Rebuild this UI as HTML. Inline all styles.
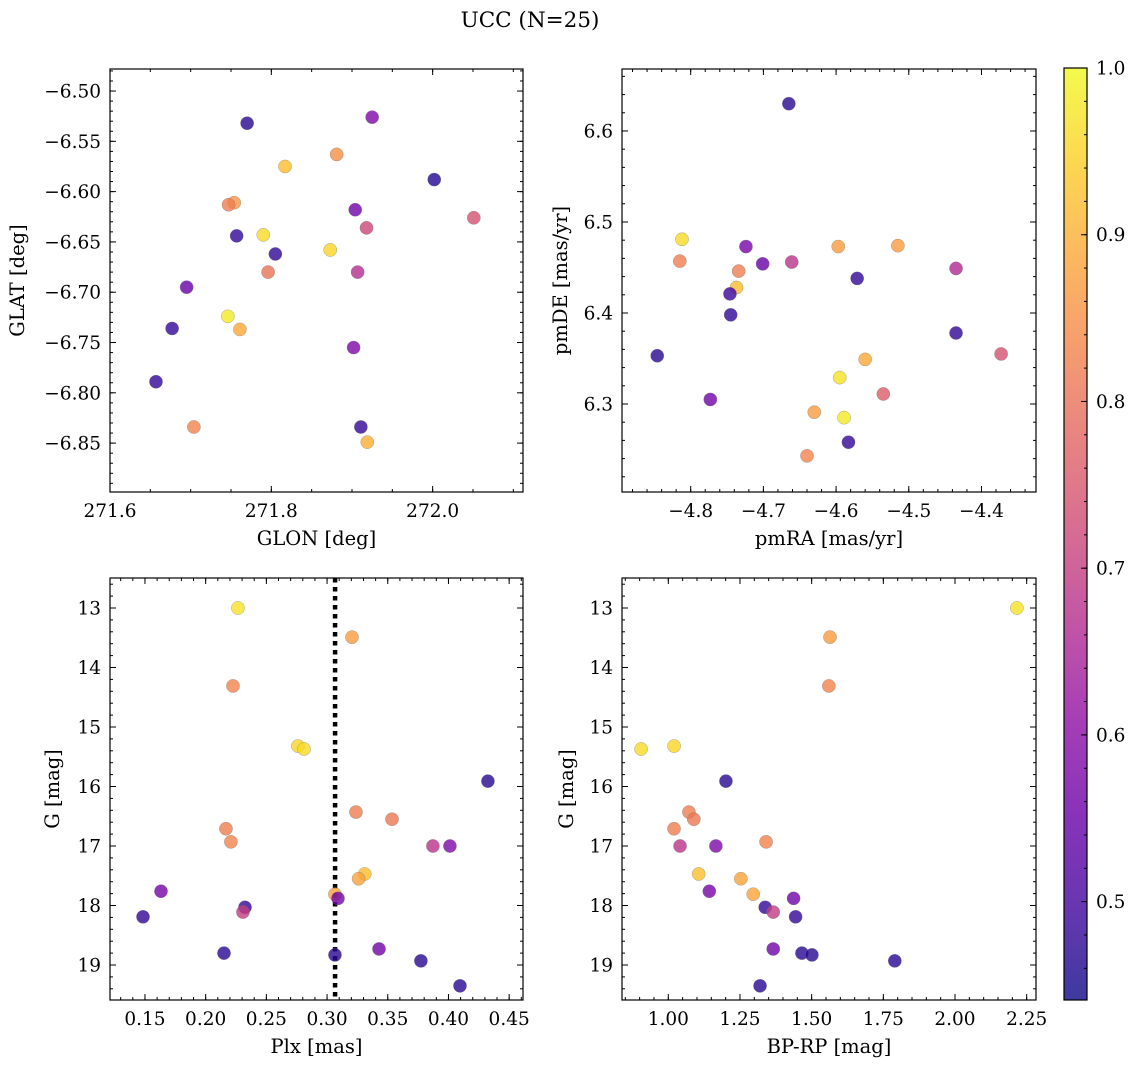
<!DOCTYPE html>
<html><head><meta charset="utf-8">
<style>
html,body{margin:0;padding:0;background:#fff;}
svg{display:block;font-family:"DejaVu Serif","Liberation Serif",serif;}
</style></head>
<body>
<svg id="fig" width="1136" height="1068" viewBox="0 0 1136 1068" xmlns="http://www.w3.org/2000/svg">
<rect width="1136" height="1068" fill="#fff"/>
<text x="530" y="27" font-size="21.5" text-anchor="middle">UCC (N=25)</text>
</svg>
<script>
// ---- Panel 1: GLON vs GLAT ----
const glon = [271.770,271.925,271.817,271.881,272.002,271.754,271.747,271.904,271.918,272.051,271.757,271.790,271.873,271.805,271.796,271.907,271.695,271.746,271.761,271.677,271.902,271.657,271.704,271.911,271.919];
const glat = [-6.532,-6.526,-6.575,-6.563,-6.588,-6.611,-6.613,-6.618,-6.636,-6.626,-6.644,-6.643,-6.658,-6.662,-6.680,-6.680,-6.695,-6.724,-6.737,-6.736,-6.755,-6.789,-6.834,-6.834,-6.849];
const probA = [0.47,0.58,0.92,0.85,0.46,0.86,0.82,0.56,0.72,0.74,0.48,0.96,0.95,0.48,0.80,0.67,0.55,0.98,0.89,0.48,0.58,0.48,0.83,0.48,0.90];
// ---- Panel 2: pmRA vs pmDE ----
const pmra = [-4.665,-4.812,-4.815,-4.724,-4.701,-4.661,-4.734,-4.597,-4.515,-4.571,-4.435,-4.737,-4.746,-4.745,-4.846,-4.435,-4.373,-4.560,-4.773,-4.595,-4.535,-4.630,-4.589,-4.583,-4.640];
const pmde = [6.630,6.481,6.457,6.473,6.454,6.456,6.446,6.473,6.474,6.438,6.449,6.428,6.421,6.398,6.353,6.378,6.355,6.349,6.305,6.329,6.311,6.291,6.285,6.258,6.243];
const probB = [0.47,0.96,0.82,0.57,0.55,0.68,0.82,0.87,0.87,0.48,0.66,0.92,0.49,0.48,0.47,0.48,0.74,0.89,0.56,0.97,0.76,0.87,0.98,0.48,0.83];
// ---- Panels 3 & 4: Plx / BP-RP vs G ----
const gmag = [13.00,13.49,14.31,15.32,15.37,15.91,16.43,16.55,16.71,16.93,17.00,17.00,17.47,17.55,17.76,17.81,17.88,18.03,18.11,18.19,18.80,18.83,18.73,18.93,19.35];
const plx = [0.2266,0.3205,0.2225,0.276,0.281,0.4325,0.3238,0.3535,0.2167,0.2208,0.3872,0.4012,0.331,0.326,0.1632,0.3065,0.309,0.2324,0.2307,0.1484,0.2151,0.3065,0.3428,0.3773,0.4095];
const bprp = [2.216,1.564,1.560,1.020,0.905,1.201,1.072,1.089,1.020,1.341,1.041,1.166,1.106,1.253,1.143,1.296,1.437,1.338,1.366,1.444,1.466,1.501,1.366,1.790,1.320];
const probC = [0.97,0.87,0.83,0.95,0.96,0.47,0.82,0.81,0.82,0.83,0.68,0.58,0.92,0.88,0.57,0.88,0.56,0.48,0.70,0.48,0.47,0.47,0.56,0.47,0.47];
const plxLine = [0.3066];
const cbTicks = [0.5,0.6,0.7,0.8,0.9,1.0];
const cbMin = 0.441, cbMax = 1.0;

const NS = "http://www.w3.org/2000/svg";
const svg = document.getElementById('fig');
const TICK_FS = 18.5, LABEL_FS = 19.5;
function mk(tag, attrs, parent){
  const e = document.createElementNS(NS, tag);
  for (const k in attrs) e.setAttribute(k, attrs[k]);
  (parent||svg).appendChild(e);
  return e;
}
const stops = [[13,8,135],[65,4,157],[106,0,168],[143,13,164],[177,42,144],[204,71,120],[225,100,98],[242,132,75],[252,166,54],[252,206,37],[240,249,33]];
function plasma(t){
  t = Math.max(0, Math.min(1, t));
  const f = t*10, i = Math.min(9, Math.floor(f)), r = f - i;
  const a = stops[i], b = stops[i+1];
  return 'rgb(' + [0,1,2].map(k => Math.round(a[k]+(b[k]-a[k])*r)).join(',') + ')';
}
function cnorm(v){ return (v - cbMin)/(cbMax - cbMin); }
function fmtFixed(d){ return v => (v<0?'\u2212':'') + Math.abs(v).toFixed(d); }

function panel(cfg){
  const {x0,y0,x1,y1,xmin,xmax,ytop,ybot,name} = cfg;
  const g = mk('g', {});
  
  
  const sx = v => x0 + (v - xmin)/(xmax - xmin)*(x1 - x0);
  const sy = v => y0 + (v - ytop)/(ybot - ytop)*(y1 - y0);
  const tg = mk('g', {stroke:'#000','stroke-width':1}, g);
  
  
  function ticksX(step, len){
    const s = Math.ceil(xmin/step - 1e-6);
    for (let k = s; k*step <= xmax + 1e-9; k++){
      const x = sx(k*step);
      mk('line', {x1:x, y1:y1, x2:x, y2:y1-len}, tg);
      mk('line', {x1:x, y1:y0, x2:x, y2:y0+len}, tg);
    }
  }
  function ticksY(step, len){
    const lo = Math.min(ytop, ybot), hi = Math.max(ytop, ybot);
    const s = Math.ceil(lo/step - 1e-6);
    for (let k = s; k*step <= hi + 1e-9; k++){
      const y = sy(k*step);
      mk('line', {x1:x0, y1:y, x2:x0+len, y2:y}, tg);
      mk('line', {x1:x1, y1:y, x2:x1-len, y2:y}, tg);
    }
  }
  ticksX(cfg.xminor, 3); ticksY(cfg.yminor, 3);
  cfg.xticks.forEach(v => {
    const x = sx(v);
    mk('line', {x1:x, y1:y1, x2:x, y2:y1-6}, tg);
    mk('line', {x1:x, y1:y0, x2:x, y2:y0+6}, tg);
    const t = mk('text', {x:x, y:y1+25, 'font-size':TICK_FS, 'text-anchor':'middle'}, g);
    t.textContent = cfg.xfmt(v);
    
    
  });
  cfg.yticks.forEach(v => {
    const y = sy(v);
    mk('line', {x1:x0, y1:y, x2:x0+6, y2:y}, tg);
    mk('line', {x1:x1, y1:y, x2:x1-6, y2:y}, tg);
    const t = mk('text', {x:x0-9, y:y+6.5, 'font-size':TICK_FS, 'text-anchor':'end'}, g);
    t.textContent = cfg.yfmt(v);
    
    
  });
  if (cfg.vline){
    cfg.vline.forEach(v => {
      const l = mk('line', {x1:sx(v), y1:y0, x2:sx(v), y2:y1, stroke:'#000','stroke-width':4.5,'stroke-dasharray':'4.5 4.5'}, g);
      
      
    });
  }
  const pg = mk('g', {}, g);
  
  
  cfg.xs.forEach((xv, i) => {
    const c = mk('circle', {cx:sx(xv), cy:sy(cfg.ys[i]), r:6.6, fill:plasma(cnorm(cfg.cs[i])), 'fill-opacity':0.8, stroke:'#777', 'stroke-opacity':0.6, 'stroke-width':0.5}, pg);
    
    
  });
  const fr = mk('rect', {x:x0, y:y0, width:x1-x0, height:y1-y0, fill:'none', stroke:'#000', 'stroke-width':1.2}, g);
  
  
  const xl = mk('text', {x:(x0+x1)/2, y:y1+53, 'font-size':LABEL_FS, 'text-anchor':'middle'}, g);
  xl.textContent = cfg.xlabel;
  
  
  const ly = (y0+y1)/2;
  const yl = mk('text', {x:cfg.ylx, y:ly, 'font-size':LABEL_FS, 'text-anchor':'middle', transform:'rotate(-90 '+cfg.ylx+' '+ly+')'}, g);
  yl.textContent = cfg.ylabel;
  
  
}

panel({name:'glon-glat-panel', x0:110,y0:69,x1:523,y1:492, xmin:271.6, xmax:272.112, ytop:-6.4781, ybot:-6.8986,
  xticks:[271.6,271.8,272.0], xminor:0.05, xfmt:fmtFixed(1),
  yticks:[-6.50,-6.55,-6.60,-6.65,-6.70,-6.75,-6.80,-6.85], yminor:0.01, yfmt:fmtFixed(2),
  xs:glon, ys:glat, cs:probA, xlabel:'GLON [deg]', ylabel:'GLAT [deg]', ylx:24});
panel({name:'pm-panel', x0:622,y0:69,x1:1036,y1:492, xmin:-4.8945, xmax:-4.325, ytop:6.6681, ybot:6.2033,
  xticks:[-4.8,-4.7,-4.6,-4.5,-4.4], xminor:0.02, xfmt:fmtFixed(1),
  yticks:[6.3,6.4,6.5,6.6], yminor:0.02, yfmt:fmtFixed(1),
  xs:pmra, ys:pmde, cs:probB, xlabel:'pmRA [mas/yr]', ylabel:'pmDE [mas/yr]', ylx:567});
panel({name:'plx-g-panel', x0:110,y0:578,x1:523,y1:1000, xmin:0.1212, xmax:0.4614, ytop:12.496, ybot:19.588,
  xticks:[0.15,0.20,0.25,0.30,0.35,0.40,0.45], xminor:0.01, xfmt:fmtFixed(2),
  yticks:[13,14,15,16,17,18,19], yminor:0.2, yfmt:fmtFixed(0),
  xs:plx, ys:gmag, cs:probC, vline:plxLine, xlabel:'Plx [mas]', ylabel:'G [mag]', ylx:59});
panel({name:'cmd-panel', x0:622,y0:578,x1:1036,y1:1000, xmin:0.8385, xmax:2.2825, ytop:12.496, ybot:19.588,
  xticks:[1.00,1.25,1.50,1.75,2.00,2.25], xminor:0.05, xfmt:fmtFixed(2),
  yticks:[13,14,15,16,17,18,19], yminor:0.2, yfmt:fmtFixed(0),
  xs:bprp, ys:gmag, cs:probC, xlabel:'BP-RP [mag]', ylabel:'G [mag]', ylx:573});

// ---- Colorbar ----
(function(){
  const x0=1064, x1=1087, y0=68, y1=1000;
  const cb = mk('g', {});
  
  
  const defs = mk('defs', {}, cb);
  const lg = mk('linearGradient', {id:'cbgrad', x1:0, y1:1, x2:0, y2:0}, defs);
  for (let i = 0; i <= 40; i++){
    const t = i/40;
    mk('stop', {offset:t, 'stop-color':plasma(t)}, lg);
  }
  const r = mk('rect', {x:x0, y:y0, width:x1-x0, height:y1-y0, fill:'url(#cbgrad)', 'fill-opacity':0.8}, cb);
  
  
  const sy = v => y1 - (v - cbMin)/(cbMax - cbMin)*(y1 - y0);
  for (let k = Math.ceil(cbMin/0.02); k*0.02 <= cbMax + 1e-9; k++){
    const y = sy(k*0.02);
    mk('line', {x1:x1, y1:y, x2:x1-3, y2:y, stroke:'#000'}, cb);
  }
  cbTicks.forEach(v => {
    const y = sy(v);
    mk('line', {x1:x1, y1:y, x2:x1-6, y2:y, stroke:'#000'}, cb);
    const t = mk('text', {x:x1+9, y:y+6.5, 'font-size':TICK_FS}, cb);
    t.textContent = v.toFixed(1);
    
    
  });
  mk('rect', {x:x0, y:y0, width:x1-x0, height:y1-y0, fill:'none', stroke:'#000', 'stroke-width':1.2}, cb);
})();
</script>
</body></html>
